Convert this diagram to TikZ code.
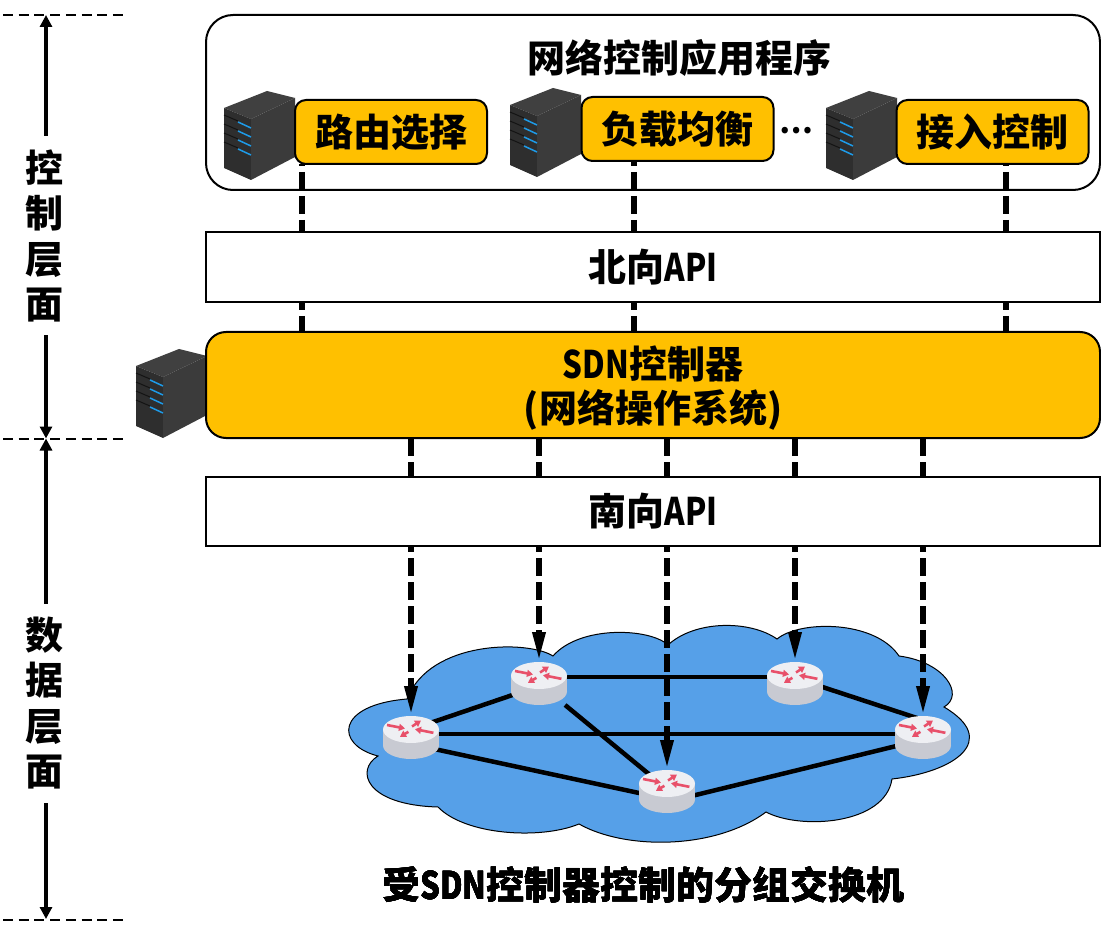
\documentclass[tikz,border=0pt]{standalone}
\usepackage{fontspec}
\setmainfont{Noto Sans CJK SC}
\newfontfamily\latfont[FakeStretch=0.82]{Noto Sans CJK SC}
\usetikzlibrary{arrows.meta,calc}
\definecolor{boxyellow}{HTML}{FFC000}
\definecolor{cloudblue}{HTML}{56A0E8}
\definecolor{routertop}{HTML}{EEEFF3}
\definecolor{routerside}{HTML}{C8CAD2}
\definecolor{routerred}{HTML}{E8506A}
\definecolor{serverblue}{HTML}{1E9BE8}
\newcommand{\latname}[1]{{\latfont #1}}
\newcommand{\bigcn}{\fontsize{38}{44}\selectfont\bfseries}
\tikzset{
  x=1pt,y=-1pt,
  widebox/.style={draw,line width=2pt,minimum width=894pt,inner sep=0pt,outer sep=0pt,font=\bigcn,align=center},
  taskbox/.style={draw,fill=boxyellow,line width=2pt,rounded corners=11pt,minimum width=192pt,minimum height=64pt,inner sep=0pt,outer sep=0pt,font=\bigcn},
  sidelabel/.style={fill=white,inner sep=0pt,minimum height=199pt,minimum width=44pt,align=center,font=\fontsize{38}{45.5}\selectfont\bfseries},
  routernode/.style={minimum width=56pt,minimum height=43pt,inner sep=0pt,outer sep=0pt},
  ctrlline/.style={line width=6pt,dash pattern=on 18pt off 6pt},
  linkline/.style={line width=4.5pt},
  sidearrow/.style={line width=4pt,{Triangle[length=12pt,width=12pt]}-{Triangle[length=12pt,width=12pt]}},
  levelline/.style={line width=2pt,dash pattern=on 10pt off 5.7pt},
  redarrow/.style={routerred,line width=2.6pt,-{Triangle[length=6pt,width=7pt]}}
}
\newcommand{\servericon}[2]{
  \begin{scope}[shift={(#1,#2)}]
    \fill[fill=black!75] (0,17)--(43,0)--(71,7)--(27,28)--cycle;
    \fill[fill=black!82] (0,17)--(27,28)--(27,89)--(0,77)--cycle;
    \fill[fill=black!77] (27,28)--(71,7)--(71,66)--(27,89)--cycle;
    \foreach \y in {0,9,18,27} {
      \draw[black!92,line width=1pt] (0,24+\y)--(14,30+\y);
      \draw[serverblue,line width=1.5pt] (14,31+\y)--(27,37+\y);
    }
  \end{scope}
}
\newcommand{\routericon}[1]{
  \begin{scope}[shift={(#1)}]
    \fill[routerside] (-28,-8) rectangle (28,8);
    \fill[routerside] (0,8) ellipse [x radius=28pt,y radius=13.5pt];
    \fill[routertop] (0,-8) ellipse [x radius=28pt,y radius=13.5pt];
    \draw[redarrow] (-24,-12.5)--(-6,-9);
    \draw[redarrow] (1,-11)--(10,-17);
    \draw[redarrow] (22.4,-4.7)--(4,-8.3);
    \draw[redarrow] (-2.6,-5.7)--(-11,-0.7);
  \end{scope}
}

\begin{document}
\begin{tikzpicture}
  \useasboundingbox (0,0) rectangle (1101,933);
  % left side
  \coordinate (c1) at (46,15);
  \coordinate (c2) at (46,438.5);
  \coordinate (c3) at (46,919);
  \coordinate (l1) at (3,15);
  \coordinate (l2) at (3,438.5);
  \coordinate (l3) at (3,920);
  \coordinate (m1) at (123,15);
  \coordinate (m2) at (123,438.5);
  \coordinate (m3) at (123,920);
  \draw[levelline] (l1)--(m1);
  \draw[levelline] (l2)--(m2);
  \draw[levelline] (l3)--(m3);
  \draw[sidearrow] (c1)--(c2);
  \draw[sidearrow] (c2)--(c3);
  \node[sidelabel] (ctrllayer) at (44,236) {控\\制\\层\\面};
  \node[sidelabel] (datalayer) at (44,703) {数\\据\\层\\面};
  % applications
  \node[widebox,fill=white,rounded corners=27pt,minimum height=175pt] (apps) at (653,102.5) {};
  \node[font=\bigcn,inner sep=0pt] (appstitle) at (679,58) {网络控制应用程序};
  \servericon{224}{91}
  \servericon{510}{88}
  \servericon{826}{91}
  \node[taskbox] (route) at (391,132) {路由选择};
  \node[taskbox] (balance) at (677.5,129) {负载均衡};
  \node[taskbox] (access) at (992.5,132) {接入控制};
  \node[font=\fontsize{30}{30}\selectfont\bfseries,inner sep=0pt] (dots) at (796,131) {…};
  % to the controller
  \coordinate (p1) at (302,332);
  \coordinate (p2) at (634,332);
  \coordinate (p3) at (1006,332);
  \draw[ctrlline,dash phase=16pt] (route.south -| p1)--(p1);
  \draw[ctrlline,dash phase=13pt] (balance.south -| p2)--(p2);
  \draw[ctrlline,dash phase=16pt] (access.south -| p3)--(p3);
  \node[widebox,fill=white,minimum height=70pt] (north) at (653,267) {北向\latname{API}};
  \servericon{136}{349}
  \node[widebox,fill=boxyellow,rounded corners=20pt,minimum height=106pt] (sdn) at (653,385) {};
  \node[font=\bigcn,align=center,inner sep=0pt] (sdntext) at (653,388) {\latname{SDN}控制器\\(网络操作系统)};
  % switches
  \draw[fill=cloudblue,line width=1pt] (553,656)
    .. controls (528,640) and (430,640) .. (407,699)
    .. controls (335,705) and (335,745) .. (378,756)
    .. controls (355,770) and (365,805) .. (438,807)
    .. controls (465,835) and (540,840) .. (579,824)
    .. controls (625,850) and (715,850) .. (766,812)
    .. controls (800,830) and (885,825) .. (892,779)
    .. controls (955,772) and (1000,740) .. (944,707)
    .. controls (965,695) and (945,662) .. (899,656)
    .. controls (875,620) and (800,620) .. (777,639)
    .. controls (750,620) and (695,620) .. (668,645)
    .. controls (650,628) and (580,625) .. (553,656)
    -- cycle;
  \node[routernode] (R1) at (411,737.5) {};
  \node[routernode] (R2) at (539,683.5) {};
  \node[routernode] (R3) at (667,791.5) {};
  \node[routernode] (R4) at (795,683.5) {};
  \node[routernode] (R5) at (923,737.5) {};
  \draw[linkline] ($(R1)+(0,-8)$)--($(R2)+(0,2.5)$);
  \draw[linkline] ($(R1)+(0,-3.5)$)--($(R5)+(0,-3.5)$);
  \draw[linkline] ($(R1)+(0,6.5)$)--($(R3)+(0,7.5)$);
  \draw[linkline] ($(R2)+(0,-6.5)$)--($(R4)+(0,-6.5)$);
  \draw[linkline] (R2)--($(R3)+(0,-2.5)$);
  \draw[linkline] ($(R3)+(0,10.5)$)--($(R5)+(0,2)$);
  \draw[linkline] ($(R4)+(0,-5.5)$)--($(R5)+(0,-17.5)$);
  \foreach \r in {R1,R2,R3,R4,R5}
  \draw[ctrlline,-{Triangle[length=30pt,width=12pt]}] (sdn.south -| \r)--(\r.north);
  \node[widebox,fill=white,minimum height=69pt] (south) at (653,511.5) {南向\latname{API}};
  \foreach \r in {R1,R2,R3,R4,R5}
  \routericon{\r}
  \node[font=\fontsize{38}{38}\selectfont\bfseries,inner sep=0pt] (switches) at (643.5,885) {受\latname{SDN}控制器控制的分组交换机};
\end{tikzpicture}
\end{document}
